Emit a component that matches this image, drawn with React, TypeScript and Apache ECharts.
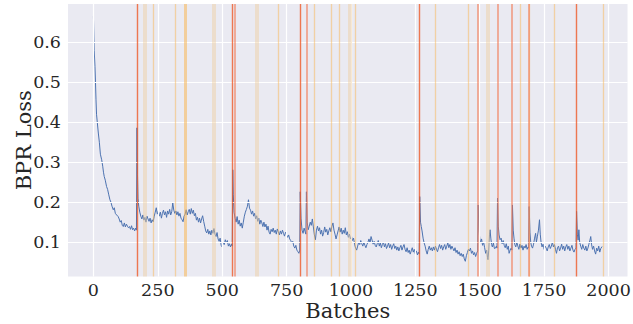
import React, { useEffect, useRef } from "react";
import * as echarts from "echarts";

// Training loss (batch, BPR loss)
const lossPoints: [number, number][] = [
  [0, 0.665], [3, 0.58], [6, 0.54], [8, 0.5], [10, 0.456], [12, 0.42], [15, 0.4], [19, 0.373], [23, 0.35], [27, 0.32],
  [32, 0.306], [36, 0.29], [39, 0.275], [42, 0.264], [46, 0.255], [51, 0.239], [55, 0.232], [59, 0.22], [64, 0.206], [68, 0.2],
  [72, 0.19], [77, 0.181], [81, 0.186], [85, 0.172], [90, 0.168], [96, 0.164], [100, 0.158], [104, 0.15], [108, 0.154], [112, 0.142],
  [116, 0.139], [120, 0.148], [124, 0.138], [128, 0.145], [132, 0.14], [136, 0.136], [140, 0.139], [144, 0.132], [148, 0.141], [152, 0.131],
  [156, 0.135], [160, 0.128], [164, 0.135], [167, 0.13], [169, 0.386], [171, 0.27], [173, 0.21], [176, 0.19], [180, 0.175], [184, 0.165],
  [188, 0.158], [192, 0.168], [196, 0.155], [200, 0.162], [204, 0.15], [208, 0.165], [212, 0.158], [216, 0.152], [220, 0.16], [224, 0.148],
  [228, 0.156], [232, 0.151], [236, 0.165], [240, 0.175], [244, 0.186], [248, 0.17], [252, 0.178], [256, 0.165], [260, 0.175], [264, 0.16],
  [268, 0.172], [272, 0.18], [276, 0.168], [280, 0.176], [284, 0.162], [288, 0.178], [292, 0.17], [296, 0.182], [300, 0.168], [304, 0.176],
  [308, 0.198], [312, 0.18], [316, 0.172], [320, 0.178], [324, 0.168], [328, 0.176], [332, 0.165], [336, 0.172], [340, 0.16], [344, 0.156],
  [348, 0.151], [352, 0.165], [356, 0.17], [360, 0.181], [364, 0.168], [368, 0.176], [372, 0.182], [376, 0.17], [380, 0.184], [384, 0.172],
  [388, 0.18], [392, 0.166], [396, 0.172], [400, 0.155], [404, 0.162], [408, 0.15], [412, 0.16], [416, 0.148], [420, 0.158], [424, 0.166],
  [428, 0.152], [432, 0.14], [436, 0.128], [440, 0.123], [444, 0.132], [448, 0.12], [452, 0.128], [456, 0.118], [460, 0.13], [464, 0.122],
  [468, 0.134], [472, 0.12], [476, 0.114], [480, 0.124], [484, 0.108], [488, 0.102], [492, 0.11], [496, 0.092], [500, 0.088], [504, 0.1],
  [508, 0.094], [512, 0.106], [516, 0.098], [520, 0.104], [524, 0.09], [528, 0.096], [532, 0.088], [536, 0.095], [539, 0.09], [541, 0.281],
  [543, 0.22], [546, 0.175], [550, 0.16], [554, 0.15], [558, 0.164], [562, 0.145], [566, 0.155], [570, 0.14], [574, 0.148], [578, 0.135],
  [582, 0.15], [586, 0.165], [590, 0.175], [594, 0.182], [598, 0.19], [602, 0.206], [606, 0.185], [610, 0.18], [614, 0.17], [618, 0.178],
  [622, 0.165], [626, 0.172], [630, 0.158], [634, 0.166], [638, 0.152], [642, 0.16], [646, 0.145], [650, 0.155], [654, 0.148], [658, 0.139],
  [662, 0.15], [666, 0.138], [670, 0.145], [674, 0.13], [678, 0.14], [682, 0.125], [686, 0.12], [690, 0.132], [694, 0.126], [698, 0.135],
  [702, 0.124], [706, 0.13], [710, 0.12], [714, 0.133], [718, 0.126], [722, 0.118], [726, 0.128], [730, 0.12], [734, 0.13], [738, 0.122],
  [742, 0.115], [746, 0.125], [750, 0.118], [754, 0.112], [758, 0.118], [762, 0.108], [766, 0.104], [770, 0.098], [774, 0.102], [778, 0.09],
  [782, 0.085], [786, 0.092], [790, 0.08], [794, 0.076], [798, 0.072], [801, 0.08], [803, 0.226], [806, 0.16], [810, 0.13], [814, 0.122],
  [818, 0.135], [822, 0.126], [825, 0.12], [827, 0.226], [830, 0.15], [834, 0.131], [838, 0.14], [842, 0.15], [846, 0.142], [850, 0.158],
  [854, 0.138], [858, 0.118], [862, 0.106], [866, 0.13], [870, 0.14], [874, 0.128], [878, 0.136], [882, 0.12], [886, 0.13], [890, 0.115],
  [894, 0.124], [898, 0.138], [902, 0.125], [906, 0.132], [910, 0.118], [914, 0.128], [918, 0.136], [922, 0.126], [926, 0.14], [930, 0.148],
  [934, 0.13], [938, 0.12], [942, 0.108], [946, 0.118], [950, 0.128], [954, 0.138], [958, 0.125], [962, 0.135], [966, 0.12], [970, 0.13],
  [974, 0.122], [978, 0.136], [982, 0.118], [986, 0.126], [990, 0.112], [994, 0.12], [998, 0.108], [1002, 0.115], [1006, 0.104], [1010, 0.11],
  [1014, 0.095], [1018, 0.085], [1022, 0.08], [1026, 0.09], [1030, 0.1], [1034, 0.094], [1038, 0.104], [1042, 0.096], [1046, 0.09], [1050, 0.1],
  [1054, 0.092], [1058, 0.086], [1062, 0.094], [1066, 0.1], [1070, 0.108], [1074, 0.098], [1078, 0.114], [1082, 0.105], [1086, 0.095], [1090, 0.102],
  [1094, 0.092], [1098, 0.088], [1102, 0.096], [1106, 0.104], [1110, 0.09], [1114, 0.098], [1118, 0.086], [1122, 0.094], [1126, 0.1], [1130, 0.088],
  [1134, 0.096], [1138, 0.084], [1142, 0.09], [1146, 0.098], [1150, 0.086], [1154, 0.094], [1158, 0.082], [1162, 0.09], [1166, 0.096], [1170, 0.084],
  [1174, 0.09], [1178, 0.08], [1182, 0.088], [1186, 0.078], [1190, 0.086], [1194, 0.092], [1198, 0.08], [1202, 0.088], [1206, 0.094], [1210, 0.082],
  [1214, 0.076], [1218, 0.086], [1222, 0.074], [1226, 0.08], [1230, 0.07], [1234, 0.078], [1238, 0.086], [1242, 0.075], [1246, 0.082], [1250, 0.07],
  [1254, 0.078], [1258, 0.068], [1262, 0.075], [1265, 0.07], [1267, 0.214], [1270, 0.15], [1273, 0.139], [1276, 0.128], [1280, 0.11], [1284, 0.098],
  [1288, 0.09], [1292, 0.078], [1296, 0.07], [1300, 0.082], [1304, 0.09], [1308, 0.08], [1312, 0.086], [1316, 0.078], [1320, 0.088], [1324, 0.08],
  [1328, 0.09], [1332, 0.082], [1336, 0.076], [1340, 0.086], [1344, 0.094], [1348, 0.084], [1352, 0.092], [1356, 0.08], [1360, 0.088], [1364, 0.094],
  [1368, 0.082], [1372, 0.09], [1376, 0.098], [1380, 0.086], [1384, 0.094], [1388, 0.082], [1392, 0.09], [1396, 0.084], [1400, 0.078], [1404, 0.086],
  [1408, 0.074], [1412, 0.08], [1416, 0.07], [1420, 0.076], [1424, 0.066], [1428, 0.072], [1432, 0.064], [1436, 0.07], [1440, 0.058], [1444, 0.052],
  [1448, 0.066], [1452, 0.074], [1456, 0.082], [1460, 0.078], [1464, 0.085], [1468, 0.072], [1472, 0.078], [1476, 0.068], [1480, 0.074], [1484, 0.064],
  [1488, 0.072], [1492, 0.078], [1494, 0.193], [1497, 0.13], [1500, 0.11], [1503, 0.098], [1507, 0.108], [1511, 0.092], [1515, 0.1], [1519, 0.086],
  [1523, 0.072], [1527, 0.08], [1530, 0.062], [1532, 0.056], [1535, 0.08], [1538, 0.12], [1540, 0.131], [1543, 0.11], [1546, 0.094], [1549, 0.088],
  [1553, 0.098], [1557, 0.084], [1561, 0.085], [1565, 0.09], [1567, 0.085], [1569, 0.21], [1572, 0.14], [1575, 0.118], [1579, 0.106], [1583, 0.11],
  [1587, 0.096], [1591, 0.104], [1595, 0.092], [1599, 0.086], [1603, 0.096], [1607, 0.082], [1611, 0.09], [1614, 0.072], [1618, 0.08], [1622, 0.085],
  [1625, 0.08], [1627, 0.193], [1630, 0.13], [1633, 0.11], [1636, 0.094], [1640, 0.088], [1644, 0.1], [1648, 0.09], [1652, 0.082], [1656, 0.095],
  [1660, 0.085], [1664, 0.092], [1668, 0.08], [1672, 0.09], [1676, 0.085], [1680, 0.094], [1684, 0.082], [1688, 0.088], [1690, 0.085], [1692, 0.189],
  [1695, 0.125], [1698, 0.1], [1701, 0.09], [1705, 0.085], [1709, 0.095], [1713, 0.11], [1717, 0.122], [1720, 0.1], [1724, 0.115], [1728, 0.13],
  [1732, 0.156], [1735, 0.12], [1738, 0.1], [1742, 0.088], [1746, 0.095], [1750, 0.082], [1754, 0.09], [1758, 0.085], [1762, 0.078], [1766, 0.088],
  [1770, 0.094], [1774, 0.084], [1778, 0.09], [1782, 0.1], [1786, 0.088], [1790, 0.094], [1794, 0.082], [1798, 0.072], [1802, 0.086], [1806, 0.09],
  [1810, 0.078], [1814, 0.085], [1818, 0.095], [1822, 0.082], [1826, 0.09], [1830, 0.078], [1834, 0.088], [1838, 0.094], [1842, 0.082], [1846, 0.09],
  [1850, 0.078], [1854, 0.085], [1858, 0.092], [1862, 0.08], [1866, 0.075], [1870, 0.082], [1874, 0.085], [1876, 0.177], [1879, 0.12], [1882, 0.105],
  [1885, 0.131], [1888, 0.1], [1892, 0.09], [1896, 0.082], [1900, 0.094], [1904, 0.085], [1908, 0.08], [1912, 0.09], [1916, 0.078], [1920, 0.085],
  [1924, 0.095], [1928, 0.105], [1931, 0.114], [1934, 0.095], [1938, 0.082], [1942, 0.09], [1946, 0.078], [1950, 0.07], [1954, 0.085], [1958, 0.078],
  [1962, 0.09], [1966, 0.075], [1970, 0.084], [1975, 0.089],
];

// Event markers (batch positions), grouped by colour intensity
const strongEvents = [169, 540, 804, 1266, 1875];
const salmonEvents = [548, 830, 1494, 1568, 1626, 1690];
const orangeEvents = [231, 317, 716, 859, 925, 955, 1018, 1329, 1454, 1656, 1692, 1789, 1979];
const wideOrangeEvents = [358];
const tanEvents = [200, 468, 634, 996, 1531];

const xTicks = [0, 250, 500, 750, 1000, 1250, 1500, 1750, 2000];
const yTicks = [0.1, 0.2, 0.3, 0.4, 0.5, 0.6];

const FONT = "DejaVu Serif";
const TXT = "#262626";

export default function App() {
  const ref = useRef<HTMLDivElement>(null);
  useEffect(() => {
    document.body.style.margin = "0";
    const chart = echarts.init(ref.current!, null, { renderer: "svg" });
    const vline = (v: number, color: string, width: number, opacity: number) => ({
      xAxis: v,
      lineStyle: { color, width, opacity, type: "solid" },
    });
    const eventLines = [
      ...tanEvents.map((v) => vline(v, "#EFCF9E", 4, 0.45)),
      ...orangeEvents.map((v) => vline(v, "#F8B656", 1.3, 0.5)),
      ...wideOrangeEvents.map((v) => vline(v, "#F8B656", 3, 0.55)),
      ...salmonEvents.map((v) => vline(v, "#F4764E", 1.8, 0.6)),
      ...strongEvents.map((v) => vline(v, "#EE5A28", 1.4, 0.8)),
    ];
    const gridLines = [
      ...xTicks.map((v) => ({ xAxis: v })),
      ...yTicks.map((v) => ({ yAxis: v })),
    ];
    chart.setOption({
      animation: false,
      grid: {
        left: 68,
        right: 5.5,
        top: 4,
        bottom: 47.5,
        show: true,
        backgroundColor: "#EAEAF2",
        borderWidth: 0,
        containLabel: false,
        outerBoundsMode: "none",
      },
      xAxis: {
        type: "value",
        min: -98.75,
        max: 2073.75,
        axisLine: { show: false },
        axisTick: { show: false },
        splitLine: { show: false },
        axisLabel: {
          customValues: xTicks,
          formatter: (v: number) => String(v),
          fontFamily: FONT,
          fontSize: 17.5,
          color: TXT,
          margin: 4,
        },
        name: "Batches",
        nameLocation: "middle",
        nameGap: 24,
        nameMoveOverlap: false,
        nameTextStyle: { fontFamily: FONT, fontSize: 21, color: TXT, verticalAlign: "top" },
      },
      yAxis: {
        type: "value",
        min: 0.014,
        max: 0.6958,
        axisLine: { show: false },
        axisTick: { show: false },
        splitLine: { show: false },
        axisLabel: {
          customValues: yTicks,
          formatter: (v: number) => v.toFixed(1),
          fontFamily: FONT,
          fontSize: 17.5,
          color: TXT,
          margin: 7,
        },
        name: "BPR Loss",
        nameLocation: "middle",
        nameGap: 34,
        nameMoveOverlap: false,
        nameTextStyle: { fontFamily: FONT, fontSize: 21, color: TXT },
      },
      series: [
        {
          type: "line",
          data: [],
          z: 1,
          silent: true,
          markLine: {
            silent: true,
            symbol: ["none", "none"],
            label: { show: false },
            lineStyle: { color: "#FFFFFF", width: 1.2, type: "solid", opacity: 1 },
            data: gridLines,
          },
        },
        {
          type: "line",
          data: lossPoints,
          z: 2,
          showSymbol: false,
          symbol: "none",
          silent: true,
          lineStyle: { color: "#4C72B0", width: 1 },
        },
        {
          type: "line",
          data: [],
          z: 3,
          silent: true,
          markLine: {
            silent: true,
            symbol: ["none", "none"],
            label: { show: false },
            data: eventLines,
          },
        },
      ],
    });
    return () => chart.dispose();
  }, []);
  return (
    <div
      ref={ref}
      style={{ position: "absolute", left: 0, top: 0, width: 633, height: 324 }}
    />
  );
}
